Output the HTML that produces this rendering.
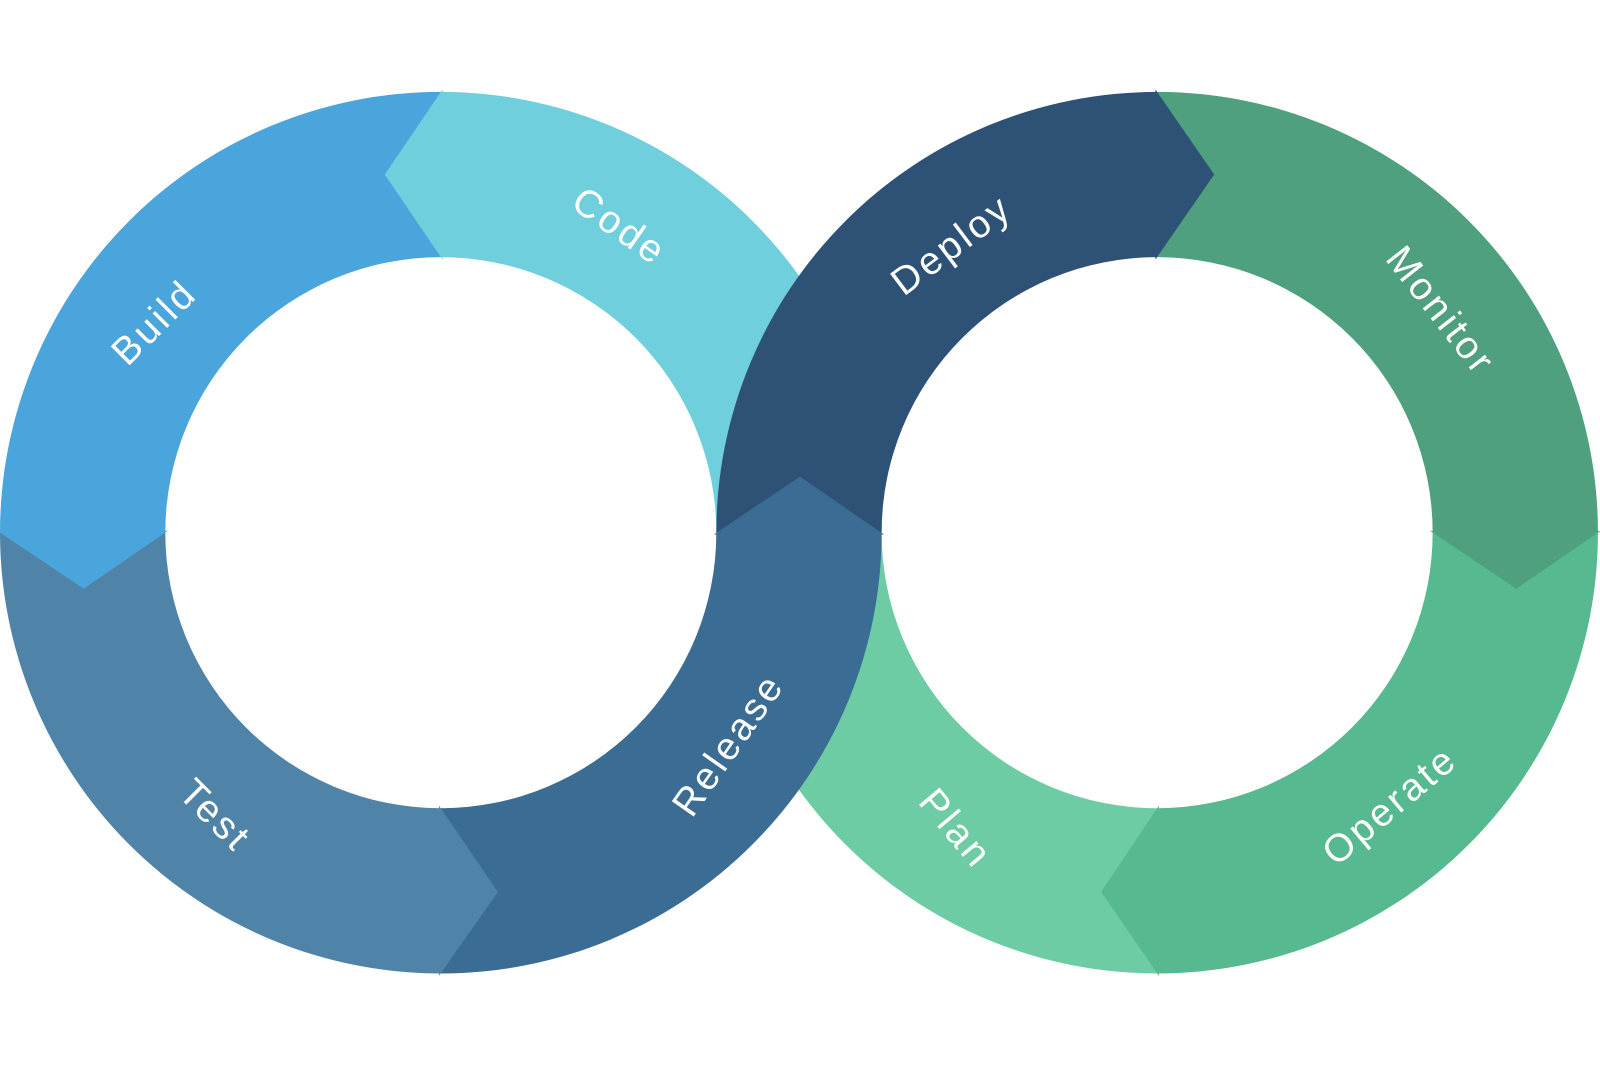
<!DOCTYPE html>
<html><head><meta charset="utf-8"><style>html,body{margin:0;padding:0;background:#fff}svg{display:block}</style></head>
<body>
<svg width="1600" height="1067" viewBox="0 0 1568 1045.6" xmlns="http://www.w3.org/2000/svg">
<path d="M432 90 A432 432 0 0 1 864 522 L702 522 A270 270 0 0 0 432 252 Z" fill="#70cfdc"/>
<path d="M702 522 A432 432 0 0 0 1134 954 L1134 792 A270 270 0 0 1 864 522 Z" fill="#6ecca4"/>
<path d="M0 522 A432 432 0 0 1 432 90 L432 252 A270 270 0 0 0 162 522 Z" fill="#4aa5dc"/>
<path d="M0 522 A432 432 0 0 0 432 954 L432 792 A270 270 0 0 1 162 522 Z" fill="#4f84a8"/>
<path d="M1134 90 A432 432 0 0 1 1566 522 L1404 522 A270 270 0 0 0 1134 252 Z" fill="#4fa07e"/>
<path d="M1566 522 A432 432 0 0 1 1134 954 L1134 792 A270 270 0 0 0 1404 522 Z" fill="#57b990"/>
<polygon points="0,521 82,576 162,521" fill="#4aa5dc" stroke="#4aa5dc" stroke-width="1.5"/>
<polygon points="1404,521 1486,576 1566,521" fill="#4fa07e" stroke="#4fa07e" stroke-width="1.5"/>
<polygon points="1135,792 1080,874 1135,954" fill="#57b990" stroke="#57b990" stroke-width="1.5"/>
<polygon points="433,90 378,171 433,252" fill="#70cfdc" stroke="#70cfdc" stroke-width="1.5"/>
<path d="M864 522 A432 432 0 0 1 432 954 L432 792 A270 270 0 0 0 702 522 Z" fill="#3b6c93"/>
<path d="M702 522 A432 432 0 0 1 1134 90 L1134 252 A270 270 0 0 0 864 522 Z" fill="#2e5276"/>
<polygon points="431,792 487,874 431,954" fill="#4f84a8" stroke="#4f84a8" stroke-width="1.5"/>
<polygon points="702,523 784,468 864,523" fill="#3b6c93" stroke="#3b6c93" stroke-width="1.5"/>
<polygon points="1133,90 1189,171 1133,252" fill="#2e5276" stroke="#2e5276" stroke-width="1.5"/>
<g fill="#fff" font-family="Liberation Sans, sans-serif" font-size="38" text-anchor="middle" letter-spacing="3">
<text transform="translate(160,325) rotate(-45)">Build</text>
<text transform="translate(600,232) rotate(35)">Code</text>
<text transform="translate(940,250) rotate(-37)">Deploy</text>
<text transform="translate(1402,312) rotate(52)">Monitor</text>
<text transform="translate(202,808) rotate(45)">Test</text>
<text transform="translate(724,737) rotate(-55)">Release</text>
<text transform="translate(927,820) rotate(50)">Plan</text>
<text transform="translate(1370,799) rotate(-40)">Operate</text>
</g>
</svg>
</body></html>
